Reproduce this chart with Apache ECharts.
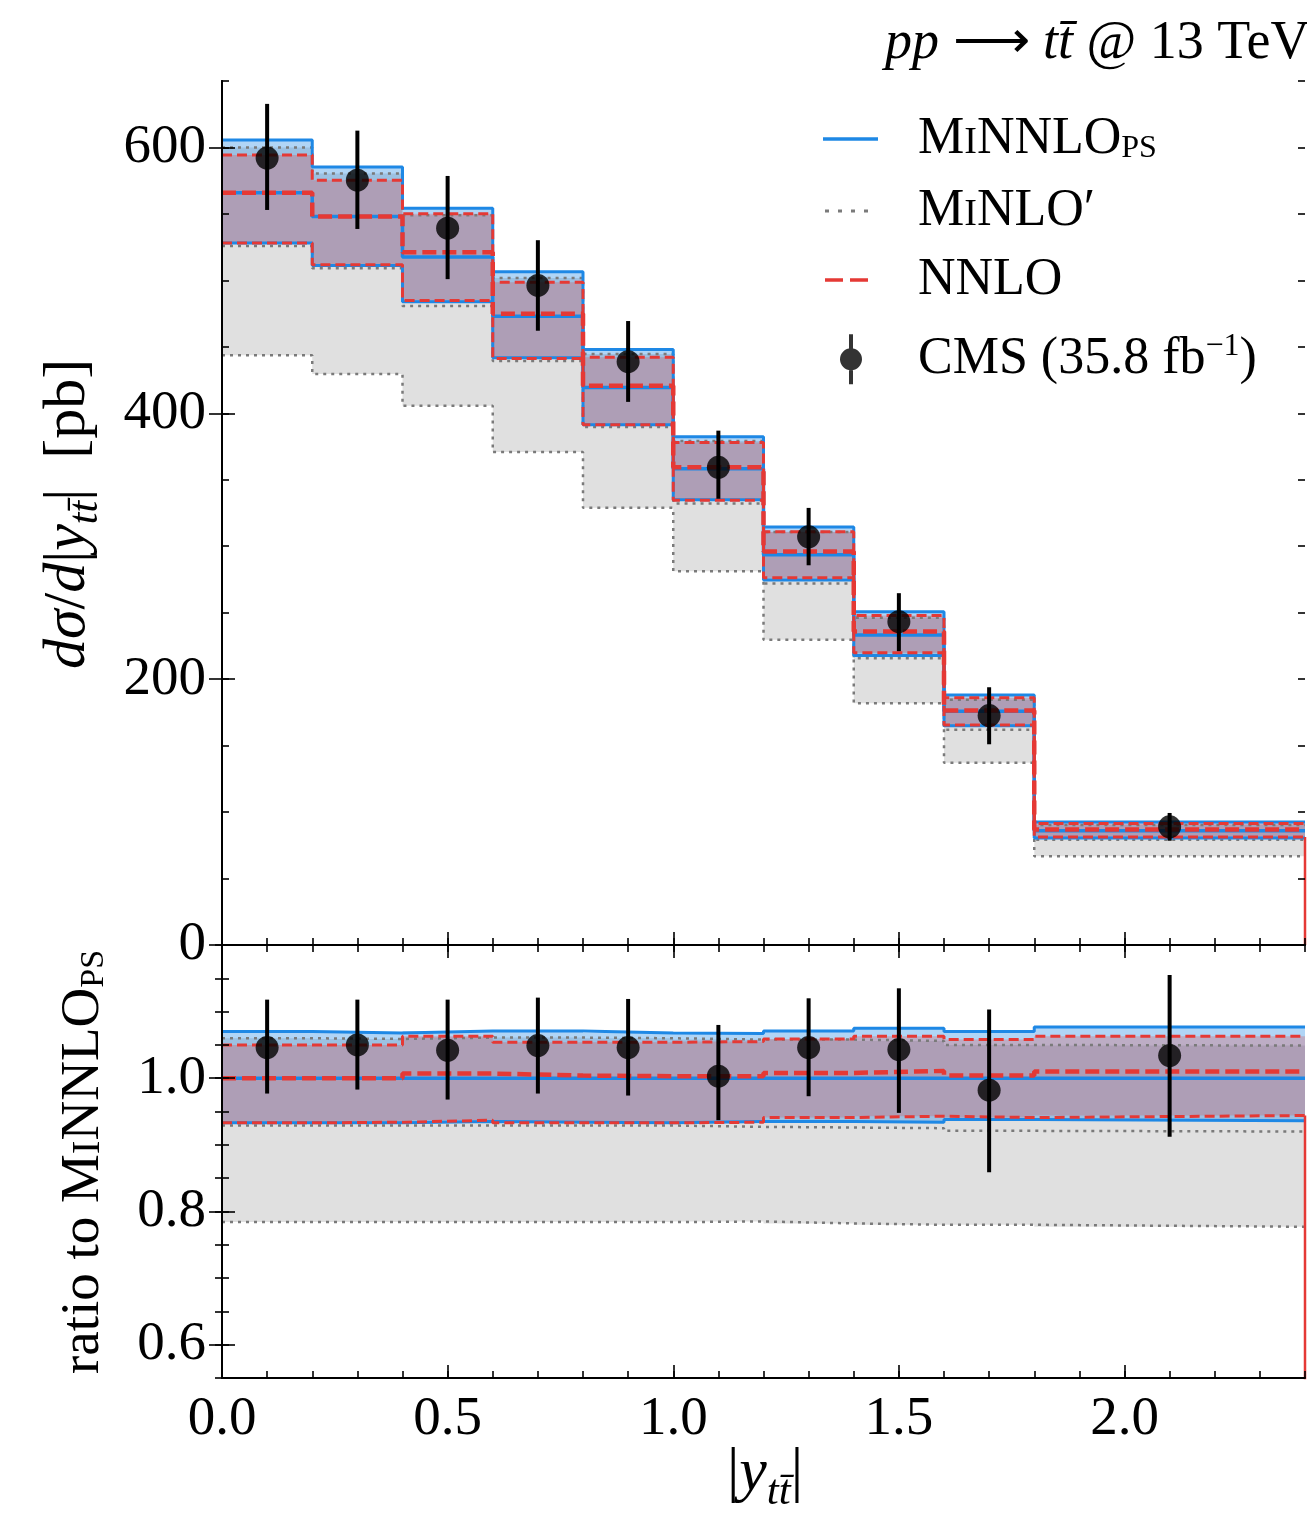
<!DOCTYPE html>
<html>
<head>
<meta charset="utf-8">
<script src="https://cdn.jsdelivr.net/npm/echarts@6/dist/echarts.min.js"></script>
<style>
  html, body { margin: 0; padding: 0; background: #fff; }
  #chart { width: 1307px; height: 1513px; }
</style>
</head>
<body>
<div id="chart"></div>
<script>
// bins in |y_tt|
const binEdges = [0, 0.2, 0.4, 0.6, 0.8, 1.0, 1.2, 1.4, 1.6, 1.8, 2.4];
// MiNNLO_PS central value per bin [pb]
const minnloCentral = [566, 548, 517.5, 473, 419.5, 358.3, 293.6, 233.2, 175.8, 86];
// everything else (ratio to MiNNLO_PS central)
const minnloUpR = [1.070, 1.068, 1.071, 1.071, 1.068, 1.067, 1.071, 1.075, 1.070, 1.077];
const minnloLoR = [0.933, 0.933, 0.935, 0.934, 0.933, 0.935, 0.935, 0.934, 0.938, 0.936];
const minloR    = [0.929, 0.929, 0.929, 0.929, 0.929, 0.927, 0.926, 0.925, 0.921, 0.920];
const minloUpR  = [1.060, 1.059, 1.061, 1.061, 1.060, 1.058, 1.058, 1.056, 1.050, 1.049];
const minloLoR  = [0.784, 0.784, 0.784, 0.784, 0.784, 0.785, 0.782, 0.780, 0.780, 0.777];
const nnloR     = [1.000, 1.000, 1.007, 1.004, 1.003, 1.003, 1.008, 1.011, 1.004, 1.010];
const nnloUpR   = [1.050, 1.050, 1.063, 1.054, 1.054, 1.055, 1.059, 1.063, 1.058, 1.063];
const nnloLoR   = [0.933, 0.934, 0.937, 0.933, 0.933, 0.934, 0.941, 0.943, 0.941, 0.944];
// CMS data points and error bar ends
const cmsR      = [1.046, 1.050, 1.042, 1.049, 1.046, 1.003, 1.046, 1.043, 0.982, 1.034];
const cmsUpR    = [1.118, 1.118, 1.118, 1.121, 1.119, 1.080, 1.120, 1.135, 1.103, 1.155];
const cmsLoR    = [0.977, 0.983, 0.968, 0.977, 0.974, 0.937, 0.973, 0.948, 0.859, 0.912];

// tick labels
const xMajor = [0, 0.5, 1.0, 1.5, 2.0];
const yMajorTop = [0, 200, 400, 600];
const yMajorRatio = [0.6, 0.8, 1.0];

const BLUE = '#1e88e5';
const RED = '#e53935';
const GRAY = '#7a7a7a';
const FONT = 'Liberation Serif';

const abs = (r) => r.map((x, i) => x * minnloCentral[i]);
const ones = minnloCentral.map((v, i) => v / minnloCentral[i]);
const centers = binEdges.slice(0, -1).map((e, i) => (e + binEdges[i + 1]) / 2);

function steps(vals) {
  const pts = vals.map((v, i) => [binEdges[i], v]);
  pts.push([binEdges[vals.length], vals[vals.length - 1]]);
  return pts;
}

// rich text styles: every token is centred on the line, padding moves the baseline
function richStyles(s) {
  const L = s + 8;
  const tok = (f, d, italic) => {
    const p = 2 * (d + 0.32 * (s - f));
    return {
      fontFamily: FONT, fontSize: f, fontStyle: italic ? 'italic' : 'normal',
      lineHeight: L, verticalAlign: 'middle', color: '#000',
      padding: p >= 0 ? [p, 0, 0, 0] : [0, 0, -p, 0]
    };
  };
  return {
    n: tok(s, 0),
    i: tok(s, 0, true),
    sc: tok(Math.round(s * 0.74), 0),
    sub: tok(Math.round(s * 0.62), 3),
    isub: tok(Math.round(s * 0.7), s * 0.2, true),
    sup: tok(Math.round(s * 0.62), -s * 0.36)
  };
}

function bandSeries(lo, hi, fill, xi, yi) {
  return {
    type: 'custom', xAxisIndex: xi, yAxisIndex: yi, z: 1, silent: true, animation: false,
    data: lo.map((v, i) => [binEdges[i], v, hi[i]]),
    renderItem(params, api) {
      if (params.dataIndex !== 0) return null;
      const top = [], bot = [];
      lo.forEach((v, i) => {
        top.push(api.coord([binEdges[i], hi[i]]), api.coord([binEdges[i + 1], hi[i]]));
        bot.push(api.coord([binEdges[i], v]), api.coord([binEdges[i + 1], v]));
      });
      return { type: 'polygon', shape: { points: top.concat(bot.reverse()) }, style: { fill: fill } };
    }
  };
}

function line(name, data, color, width, dash, xi, yi, z) {
  return {
    type: 'line', name: name, data: data, step: 'end', xAxisIndex: xi, yAxisIndex: yi,
    symbol: 'none', showSymbol: false, silent: true, animation: false, z: z,
    lineStyle: { color: color, width: width, type: dash || 'solid' },
    itemStyle: { color: color }
  };
}

function errorBars(lo, hi, xi, yi) {
  return {
    type: 'custom', xAxisIndex: xi, yAxisIndex: yi, z: 8, silent: true, animation: false,
    data: centers.map((c, i) => [c, lo[i], hi[i]]),
    renderItem(params, api) {
      const a = api.coord([api.value(0), api.value(1)]);
      const b = api.coord([api.value(0), api.value(2)]);
      return { type: 'line', shape: { x1: a[0], y1: a[1], x2: b[0], y2: b[1] }, style: { stroke: '#000', lineWidth: 4 } };
    }
  };
}

function panelSeries(c, up, lo, mc, mu, ml, nc, nu, nl, d, dUp, dLo, xi, yi) {
  const last = binEdges[binEdges.length - 1];
  return [
    bandSeries(ml, mu, 'rgba(0,0,0,0.12)', xi, yi),
    bandSeries(lo, up, 'rgba(30,136,229,0.35)', xi, yi),
    bandSeries(nl, nu, 'rgba(229,57,53,0.25)', xi, yi),
    line('MiNLO', steps(mc), GRAY, 2.5, [3, 5], xi, yi, 3),
    line('MiNLO', steps(mu), GRAY, 2.5, [3, 5], xi, yi, 3),
    line('MiNLO', steps(ml), GRAY, 2.5, [3, 5], xi, yi, 3),
    line('MiNNLO', steps(c), BLUE, 3.5, null, xi, yi, 4),
    line('MiNNLO', steps(up), BLUE, 3, null, xi, yi, 4),
    line('MiNNLO', steps(lo), BLUE, 3, null, xi, yi, 4),
    line('NNLO', steps(nc), RED, 4.5, [14, 6], xi, yi, 5),
    line('NNLO', steps(nu), RED, 3, [10, 5], xi, yi, 5),
    line('NNLO', steps(nl), RED, 3, [10, 5], xi, yi, 5),
    // the NNLO lower edge falls back to zero at the end of the last bin
    line('NNLO', [[last, nl[nl.length - 1]], [last, 0]], RED, 2.5, null, xi, yi, 5),
    errorBars(dLo, dUp, xi, yi),
    {
      type: 'scatter', name: 'CMS', xAxisIndex: xi, yAxisIndex: yi, z: 9, silent: true, animation: false,
      symbol: 'circle', symbolSize: 23, itemStyle: { color: '#000' },
      data: centers.map((x, i) => [x, d[i]])
    }
  ];
}

const tickLine = { color: '#000', width: 1.6 };
const spine = { show: true, lineStyle: { color: '#000', width: 2 } };
const labelFont = { fontFamily: FONT, fontSize: 55, color: '#000' };

function xAx(grid, pos, major, labels) {
  const ax = {
    type: 'value', gridIndex: grid, position: pos, min: 0, max: 2.4, z: 10,
    splitLine: { show: false }, axisLine: { show: false },
    axisTick: { show: true, inside: true, length: 7, lineStyle: tickLine },
    axisLabel: { show: false }, interval: 0.1
  };
  if (major) {
    ax.axisLine = spine;
    ax.axisTick = { show: true, inside: true, length: 13, lineStyle: tickLine, customValues: xMajor };
    ax.interval = 0.5;
  }
  if (labels) {
    ax.axisLabel = Object.assign({ show: true, margin: 14, customValues: xMajor, formatter: (v) => v.toFixed(1) }, labelFont);
  }
  return ax;
}

function yAx(grid, pos, major, labels, min, max, minorInt, majors, fmt) {
  const ax = {
    type: 'value', gridIndex: grid, position: pos, min: min, max: max, z: 10,
    splitLine: { show: false }, axisLine: { show: false },
    axisTick: { show: true, inside: true, length: 7, lineStyle: tickLine },
    axisLabel: { show: false }, interval: minorInt
  };
  if (major) {
    ax.axisLine = spine;
    ax.axisTick = { show: true, inside: true, length: 13, lineStyle: tickLine, customValues: majors };
  }
  if (labels) {
    ax.axisLabel = Object.assign({ show: true, margin: 16, customValues: majors, formatter: fmt }, labelFont);
  }
  return ax;
}

const richLegend = richStyles(52);
const richTitle = richStyles(54);
const richYTitle = richStyles(60);
const richRatio = richStyles(55);
const richX = richStyles(62);

const legendColors = { MiNNLO: BLUE, MiNLO: GRAY, NNLO: RED, CMS: '#000' };

function legendEntry(name, icon, w, h, left, center, text) {
  return {
    data: [{ name: name, icon: icon, itemStyle: { color: legendColors[name], borderWidth: 0 } }],
    left: left, top: center - 30, padding: 0, itemWidth: w, itemHeight: h,
    selectedMode: false, orient: 'vertical',
    formatter: () => text,
    textStyle: { rich: richLegend, padding: [0, 0, 0, 918 - (left + w + 5)] }
  };
}

const chart = echarts.init(document.getElementById('chart'), null, { renderer: 'canvas' });

chart.setOption({
  backgroundColor: '#fff',
  animation: false,
  grid: [
    { left: 222, top: 81, width: 1083, height: 864, outerBoundsMode: 'none' },
    { left: 222, top: 945, width: 1083, height: 433, outerBoundsMode: 'none' }
  ],
  xAxis: [
    xAx(0, 'bottom', true, false),
    xAx(0, 'bottom', false, false),
    { type: 'value', gridIndex: 0, position: 'top', min: 0, max: 2.4, z: 10, axisLine: { show: true, lineStyle: { color: '#999', width: 1.5 } }, axisTick: { show: false }, axisLabel: { show: false }, splitLine: { show: false } },
    xAx(1, 'bottom', true, true),
    xAx(1, 'bottom', false, false),
    xAx(1, 'top', true, false),
    xAx(1, 'top', false, false)
  ],
  yAxis: [
    yAx(0, 'left', true, true, 0, 650, 50, yMajorTop, (v) => String(v)),
    yAx(0, 'left', false, false, 0, 650, 50),
    yAx(0, 'right', true, false, 0, 650, 50, yMajorTop),
    yAx(0, 'right', false, false, 0, 650, 50),
    yAx(1, 'left', true, true, 0.55, 1.2, 0.05, yMajorRatio, (v) => v.toFixed(1)),
    yAx(1, 'left', false, false, 0.55, 1.2, 0.05),
    yAx(1, 'right', true, false, 0.55, 1.2, 0.05, yMajorRatio),
    yAx(1, 'right', false, false, 0.55, 1.2, 0.05)
  ],
  legend: [
    legendEntry('MiNNLO', 'rect', 55, 3.5, 823, 143, '{n|M}{sc|I}{n|NNLO}{sub|PS}'),
    legendEntry('MiNLO', 'path://M0,0H4V3H0Z M13,0H17V3H13Z M26,0H30V3H26Z M39,0H43V3H39Z', 43, 3, 825, 215, '{n|M}{sc|I}{n|NLO′}'),
    legendEntry('NNLO', 'path://M0,0H18V3.5H0Z M25,0H43V3.5H25Z', 43, 3.5, 825, 284, '{n|NNLO}'),
    legendEntry('CMS', 'path://M9,0H13V50H9Z M0,25A11,11 0 1 1 22,25A11,11 0 1 1 0,25Z', 22, 50, 840, 361, '{n|CMS (35.8 fb}{sup|−1}{n|)}')
  ],
  graphic: [
    { type: 'text', x: 885, y: 44, silent: true,
      style: { text: '{i|pp }{n|⟶ }{i|tt̄}{n| @ 13 TeV}', rich: richTitle, align: 'left', verticalAlign: 'middle' } },
    { type: 'text', x: 68, y: 514, rotation: Math.PI / 2, silent: true,
      style: { text: '{i|dσ}{n|/}{i|d}{n||}{i|y}{isub|tt̄}{n||  [pb]}', rich: richYTitle, align: 'center', verticalAlign: 'middle' } },
    { type: 'text', x: 84, y: 1162, rotation: Math.PI / 2, silent: true,
      style: { text: '{n|ratio to M}{sc|I}{n|NNLO}{sub|PS}', rich: richRatio, align: 'center', verticalAlign: 'middle' } },
    { type: 'text', x: 765, y: 1474, silent: true,
      style: { text: '{n||}{i|y}{isub|tt̄}{n||}', rich: richX, align: 'center', verticalAlign: 'middle' } }
  ],
  series: [].concat(
    panelSeries(minnloCentral, abs(minnloUpR), abs(minnloLoR),
      abs(minloR), abs(minloUpR), abs(minloLoR),
      abs(nnloR), abs(nnloUpR), abs(nnloLoR),
      abs(cmsR), abs(cmsUpR), abs(cmsLoR), 0, 0),
    panelSeries(ones, minnloUpR, minnloLoR,
      minloR, minloUpR, minloLoR,
      nnloR, nnloUpR, nnloLoR,
      cmsR, cmsUpR, cmsLoR, 3, 4)
  )
});
</script>
</body>
</html>
